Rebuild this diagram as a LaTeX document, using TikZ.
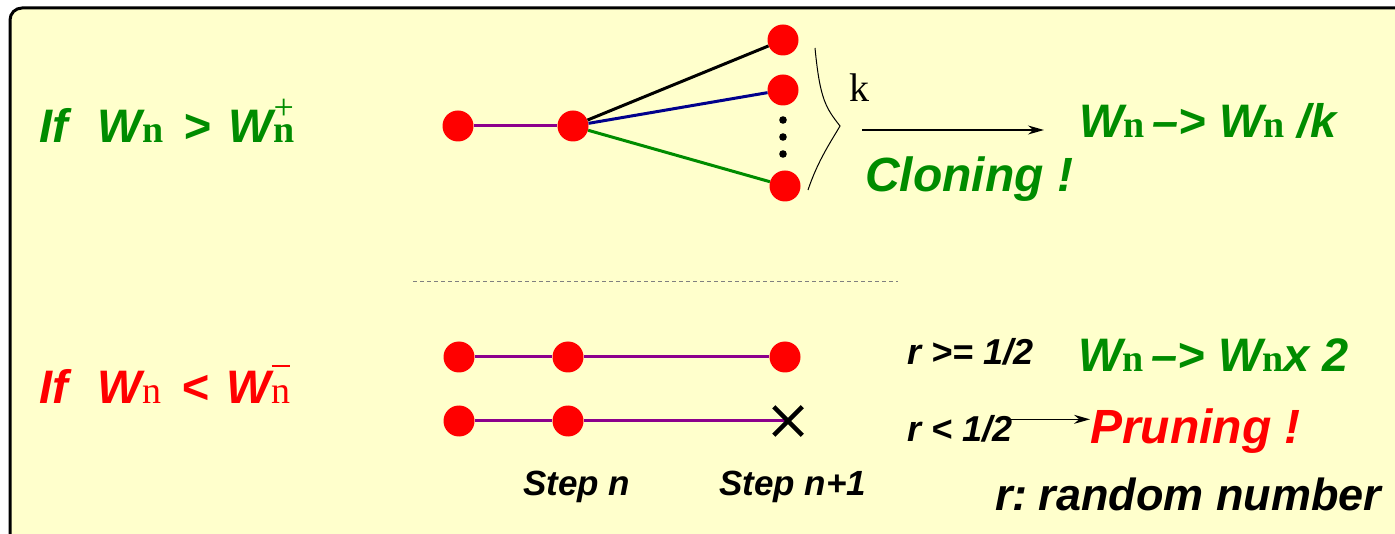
\documentclass[tikz,border=0pt]{standalone}
\usepackage{fontspec}
\setmainfont{Liberation Sans}
\newfontfamily\serifn{Liberation Serif}
\usetikzlibrary{arrows.meta,shapes.misc}
\definecolor{paper}{HTML}{FFFFCC}
\definecolor{okgreen}{RGB}{0,140,0}
\definecolor{walk}{RGB}{140,0,140}
\definecolor{navyline}{RGB}{0,0,140}

\newcommand\fs[1]{\fontsize{#1}{#1}\selectfont}
\newcommand\bi{\bfseries\itshape}
% serif "n" index that sits on the baseline (bold and regular cuts)
\newcommand\wn{{\serifn\upshape\bfseries\fs{38}n}}
\newcommand\wnr{{\serifn\upshape\mdseries\fs{38}n}}
% "n" with a mark set above it
\newcommand\nmark[2]{\ooalign{#1\cr\hidewidth#2\hidewidth\cr}}
\newcommand\nplus{\nmark{\wn}{\raisebox{23pt}{\serifn\upshape\mdseries\fs{36}+}}}
\newcommand\nminus{\nmark{\wnr}{\raisebox{36pt}{\rule{18pt}{1.6pt}}}}

\tikzset{
  walker/.style={circle, fill=red, minimum size=31pt, inner sep=0pt},
  bond/.style={line width=3pt},
  txt/.style={anchor=base west, inner sep=0pt},
  arr/.style={line width=1.5pt, -{Stealth[length=16pt,width=9pt]}},
}

\begin{document}
\begin{tikzpicture}[x=1pt,y=-1pt]
\path[use as bounding box] (0,0) rectangle (1395,534);
\clip (0,0) rectangle (1395,534);
\fill[white] (0,0) rectangle (1395,534);
\draw[line width=3pt, rounded corners=12pt, fill=paper] (10,8) rectangle (1430,570);

% ---- cloning branch ----
\node[txt, text=okgreen, font=\bi\fs{47}] (cond1) at (39,143)
  {If\hspace{30pt}W\wn\hspace{20pt}>\hspace{18pt}W\nplus};

\node[walker] (a1) at (458,126) {};
\node[walker] (a2) at (573,126) {};
\node[walker] (c1) at (783,40) {};
\node[walker] (c2) at (783,90) {};
\node[walker] (c3) at (785,186) {};
\draw[bond, walk] (a1) -- (a2);
\draw[bond, black] (a2) -- (c1);
\draw[bond, navyline] (a2) -- (c2);
\draw[bond, okgreen] (a2) -- (c3);
\foreach \y in {120,137,154} \fill (783,\y) circle (3.8);

\draw[line width=1pt] (815,48) .. controls (820,100) and (826,108) .. (840,126)
  .. controls (832,140) and (818,160) .. (808,190);
\node[txt, font=\serifn\fs{40}] (k) at (849,102) {k};

\coordinate (clA) at (862,130);
\coordinate (clB) at (1044,130);
\draw[arr] (clA) -- (clB);
\node[txt, text=okgreen, font=\bi\fs{47}] (res1) at (1079,138)
  {W\wn\,–> W\wn\ /k};
\node[txt, text=okgreen, font=\bi\fs{48}] (clon) at (865,192) {Cloning !};

% ---- separator ----
\coordinate (sepL) at (413,281);
\coordinate (sepR) at (898,281);
\draw[gray, line width=0.8pt, dash pattern=on 4pt off 3pt] (sepL) -- (sepR);

% ---- pruning branch ----
\node[txt, text=red, font=\bi\fs{47}] (cond2) at (39,403)
  {If\hspace{30pt}W\wnr\hspace{20pt}<\hspace{18pt}W\nminus};

\node[walker] (b1) at (459,357) {};
\node[walker] (b2) at (568,357) {};
\node[walker] (b3) at (785,357) {};
\node[walker] (d1) at (459,421) {};
\node[walker] (d2) at (568,421) {};
\coordinate (dx) at (788,421);
\draw[bond, walk] (b1) -- (b2) -- (b3);
\draw[bond, walk] (d1) -- (d2) -- (dx);
\node[cross out, draw, line width=4.5pt, minimum size=24pt, inner sep=0pt] (kill) at (dx) {};

\node[txt, font=\bi\fs{35}] (sn) at (523,495) {Step n};
\node[txt, font=\bi\fs{35}] (sn1) at (719,495) {Step n+1};

\node[txt, font=\bi\fs{36}] (rge) at (907,365) {r >= 1/2};
\node[txt, text=okgreen, font=\bi\fs{47}] (res2) at (1078,372) {W\wn\,–> W\wn x 2};
\node[txt, font=\bi\fs{36}] (rlt) at (907,442) {r < 1/2};
\node[txt, text=red, font=\bi\fs{48}] (prun) at (1090,443) {Pruning !};
\draw[arr] (rlt.east) ++(-6,-10) coordinate (prA) -- (prun.west |- prA);
\node[txt, font=\bi\fs{45}] (rdef) at (995,510) {r:\hspace{11pt}random number};
\end{tikzpicture}
\end{document}
